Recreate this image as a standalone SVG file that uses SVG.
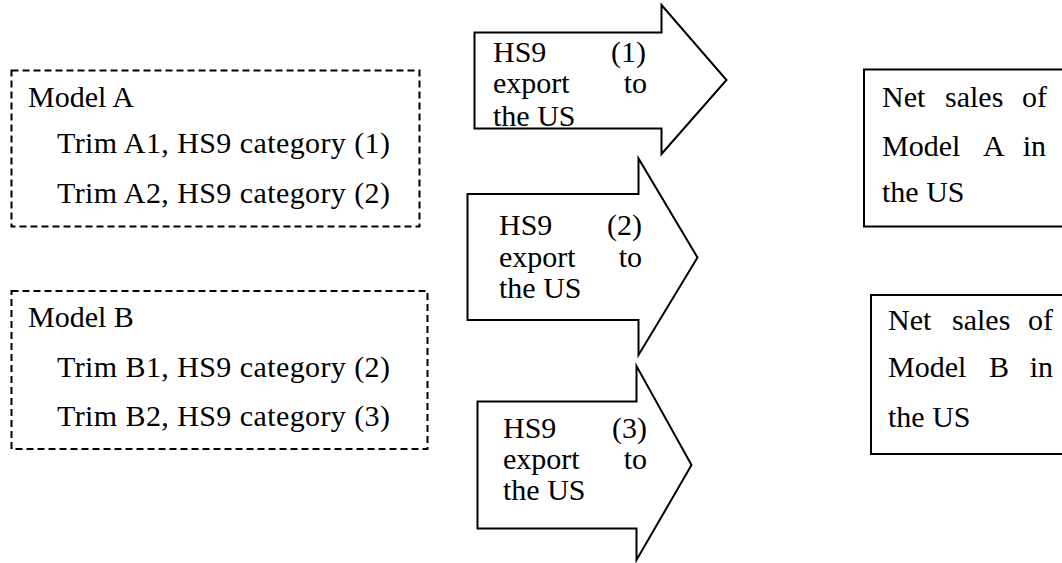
<svg xmlns="http://www.w3.org/2000/svg" width="1062" height="563" viewBox="0 0 1062 563">
<style>
text{font-family:"Liberation Serif","Times New Roman",serif;font-size:30px;fill:#000}
.e{text-anchor:end}
.dash{fill:#fff;stroke:#000;stroke-width:2;stroke-dasharray:7 4}
.solid{fill:#fff;stroke:#000;stroke-width:2}
</style>
<rect width="1062" height="563" fill="#fff"/>
<g id="modelA">
<rect class="dash" x="11.5" y="70.5" width="408" height="156"/>
<text x="28" y="107">Model A</text>
<text x="57" y="153" textLength="333" lengthAdjust="spacing">Trim A1, HS9 category (1)</text>
<text x="57" y="203" textLength="333" lengthAdjust="spacing">Trim A2, HS9 category (2)</text>
</g>
<g id="modelB">
<rect class="dash" x="11.5" y="291" width="416" height="158"/>
<text x="28" y="327">Model B</text>
<text x="57" y="377" textLength="333" lengthAdjust="spacing">Trim B1, HS9 category (2)</text>
<text x="57" y="426" textLength="333" lengthAdjust="spacing">Trim B2, HS9 category (3)</text>
</g>
<g id="connectors">
<g id="arrow1">
<path class="solid" d="M474.5 32.5 H661.5 V5 L726.5 80 L661.5 154 V128.5 H474.5 Z"/>
<text x="493" y="62">HS9</text><text class="e" x="646" y="62">(1)</text>
<text x="493" y="93">export</text><text class="e" x="647" y="93">to</text>
<text x="493" y="126">the US</text>
</g>
<g id="arrow2">
<path class="solid" d="M467.5 194 H638.5 V158.5 L697.5 257.5 L638.5 355 V320 H467.5 Z"/>
<text x="499" y="235">HS9</text><text class="e" x="642" y="235">(2)</text>
<text x="499" y="267">export</text><text class="e" x="642" y="267">to</text>
<text x="499" y="298">the US</text>
</g>
<g id="arrow3">
<path class="solid" d="M477.5 401.5 H636.5 V366 L691.5 465 L636.5 560 V528.5 H477.5 Z"/>
<text x="503" y="438">HS9</text><text class="e" x="647" y="438">(3)</text>
<text x="503" y="469">export</text><text class="e" x="647" y="469">to</text>
<text x="503" y="500">the US</text>
</g>
</g>
<g id="salesA">
<rect class="solid" x="864" y="69.5" width="220" height="157"/>
<text x="882" y="107">Net</text><text x="945" y="107">sales</text><text class="e" x="1047" y="107">of</text>
<text x="882" y="156">Model</text><text x="983" y="156">A</text><text class="e" x="1046" y="156">in</text>
<text x="882" y="202">the US</text>
</g>
<g id="salesB">
<rect class="solid" x="871" y="295" width="220" height="159"/>
<text x="888" y="330">Net</text><text x="952" y="330">sales</text><text class="e" x="1053" y="330">of</text>
<text x="888" y="377">Model</text><text x="989" y="377">B</text><text class="e" x="1053" y="377">in</text>
<text x="888" y="427">the US</text>
</g>
</svg>
